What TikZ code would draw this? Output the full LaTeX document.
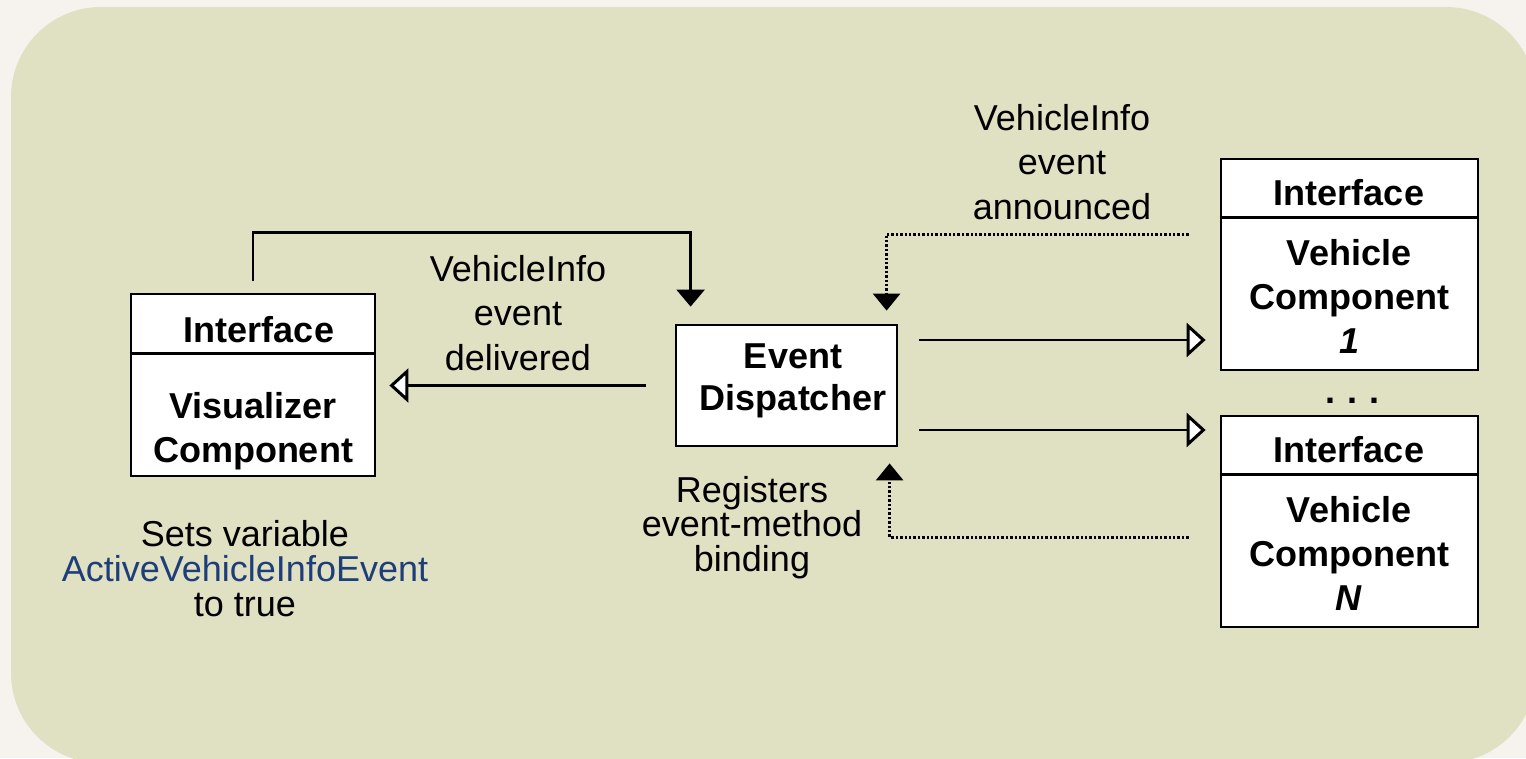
\documentclass[tikz,border=0pt]{standalone}
\usepackage{fontspec}
\setmainfont{Liberation Sans}
\usetikzlibrary{arrows.meta,calc}
\definecolor{outerbg}{RGB}{246,243,239}
\definecolor{innerbg}{RGB}{224,224,194}
\definecolor{varblue}{RGB}{30,62,122}
\tikzset{
 compbox/.style={draw=black, line width=2.8pt, fill=white, inner sep=0pt},
 lbl/.style={inner sep=0pt, align=center},
 boxtxt/.style={inner sep=0pt, align=center, font=\fontsize{36}{44}\selectfont\bfseries},
 conn/.style={line width=2.5pt, draw=black},
 dotconn/.style={line width=3pt, draw=black, dash pattern=on 2.4pt off 2pt},
 solidtip/.style={-{Triangle[width=28pt,length=17pt]}},
 opentip/.style={-{Triangle[open,width=34pt,length=19pt,fill=white,line width=3pt]}},
}
\begin{document}
\begin{tikzpicture}[x=1pt,y=-1pt]
\useasboundingbox (0,0) rectangle (1526,758);
\clip (0,0) rectangle (1526,758);
\fill[outerbg] (0,0) rectangle (1526,758);
\fill[innerbg, rounded corners=90pt] (11,7) rectangle (1536,763);

% boxes
\node[compbox, minimum width=244pt, minimum height=182pt] (vis) at (253,385) {};
\draw[line width=2.8pt] ($(vis.north west)+(0,61)$) -- ($(vis.north east)+(0,61)$);
\node[compbox, minimum width=221pt, minimum height=121pt] (disp) at (786.5,385.5) {};
\node[compbox, minimum width=257pt, minimum height=211pt] (v1) at (1349.5,264.5) {};
\draw[line width=2.8pt] ($(v1.north west)+(0,60)$) -- ($(v1.north east)+(0,60)$);
\node[compbox, minimum width=257pt, minimum height=211pt] (vN) at (1349.5,521.5) {};
\draw[line width=2.8pt] ($(vN.north west)+(0,60)$) -- ($(vN.north east)+(0,60)$);

% box texts
\node[boxtxt, anchor=base] (visif) at (259,342) {Interface};
\node[boxtxt, anchor=north] (visname) at (253,392) {Visualizer\\Component};
\node[boxtxt, anchor=north, font=\fontsize{36}{42}\selectfont\bfseries] (disptxt) at (793,344) {Event\\Dispatcher};
\node[boxtxt, anchor=base] (v1if) at (1349,205) {Interface};
\node[boxtxt, anchor=north] (v1name) at (1349,239) {Vehicle\\Component\\\textit{1}};
\node[boxtxt, anchor=base] (dots) at (1352,403) {.\,\,.\,\,.};
\node[boxtxt, anchor=base] (vNif) at (1349,462) {Interface};
\node[boxtxt, anchor=north] (vNname) at (1349,496) {Vehicle\\Component\\\textit{N}};

% labels
\node[lbl, anchor=north, font=\fontsize{36}{44.5}\selectfont] (lblann) at (1062,104) {VehicleInfo\\event\\announced};
\node[lbl, anchor=north, font=\fontsize{36}{44.5}\selectfont] (lbldel) at (518,255) {VehicleInfo\\event\\delivered};
\node[lbl, anchor=north, font=\fontsize{36}{34.5}\selectfont] (lblreg) at (752,476) {Registers\\event-method\\binding};
\node[lbl, anchor=north, font=\fontsize{36}{35}\selectfont] (lblset) at (245,520) {Sets variable\\\textcolor{varblue}{ActiveVehicleInfoEvent}\\to true};

% helper coordinates
\coordinate (d1) at ($(disp.east)+(0,-45.5)$);
\coordinate (d2) at ($(disp.east)+(0,44.5)$);
\coordinate (s1) at ($(v1.west)+(0,-30.5)$);
\coordinate (s2) at ($(vN.west)+(0,15.5)$);

% connectors
\draw[conn, solidtip, shorten <=12pt, shorten >=17pt] (vis.north) -- ($(vis.north)+(0,-60)$) -| ($(disp.north west)+(16,0)$);
\draw[conn, opentip, shorten <=29pt, shorten >=13pt] (disp.west) -- (disp.west -| vis.east);
\draw[conn, opentip, shorten <=21pt, shorten >=14pt] (d1) -- (d1 -| v1.west);
\draw[conn, opentip, shorten <=21pt, shorten >=14pt] (d2) -- (d2 -| vN.west);
\draw[dotconn, -{Triangle[width=27pt,length=17pt]}, shorten <=31pt, shorten >=13pt] (s1) -| ($(disp.north west)+(212,0)$);
\draw[dotconn, -{Triangle[width=27pt,length=17pt]}, shorten <=31pt, shorten >=16pt] (s2) -| ($(disp.south west)+(215,0)$);
\end{tikzpicture}
\end{document}
